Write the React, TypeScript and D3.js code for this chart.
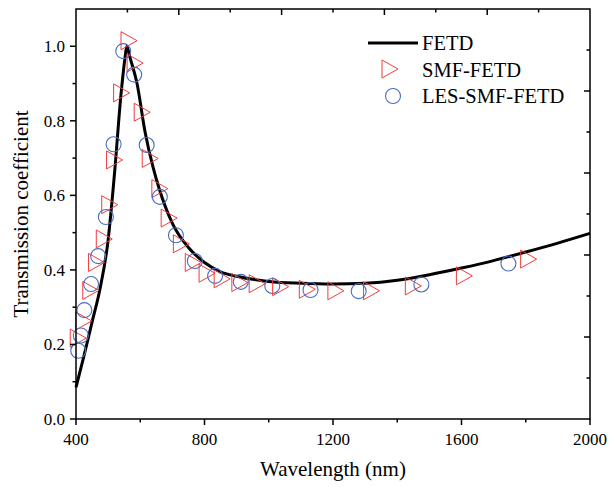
import React from "react";
import * as d3 from "d3";

// FETD (solid line)
const fetdWavelength = [400, 425, 450, 475, 500, 520, 540, 552, 558, 568, 590, 615, 640, 660, 700, 750, 800, 850, 900, 1000, 1100, 1200, 1300, 1400, 1500, 1600, 1700, 1800, 1900, 2000];
const fetdValue = [0.085, 0.17, 0.26, 0.35, 0.48, 0.66, 0.87, 0.965, 1.0, 0.97, 0.9, 0.77, 0.675, 0.615, 0.525, 0.46, 0.42, 0.395, 0.383, 0.369, 0.364, 0.362, 0.364, 0.372, 0.387, 0.405, 0.425, 0.448, 0.472, 0.498];

// SMF-FETD (triangles)
const smfWavelength = [407, 424, 446, 464, 488, 505, 520, 542, 565, 584, 606, 631, 661, 690, 728, 765, 808, 855, 910, 964, 1037, 1120, 1209, 1320, 1450, 1609, 1809];
const smfValue = [0.217, 0.263, 0.345, 0.42, 0.483, 0.575, 0.695, 0.875, 1.015, 0.955, 0.823, 0.699, 0.618, 0.539, 0.47, 0.42, 0.391, 0.376, 0.366, 0.363, 0.355, 0.348, 0.344, 0.344, 0.357, 0.384, 0.429];

// LES-SMF-FETD (circles)
const lesWavelength = [407, 415, 426, 447, 469, 493, 517, 547, 581, 620, 661, 711, 770, 833, 913, 1011, 1130, 1280, 1475, 1746];
const lesValue = [0.183, 0.224, 0.292, 0.362, 0.437, 0.542, 0.737, 0.987, 0.924, 0.735, 0.596, 0.493, 0.424, 0.384, 0.368, 0.357, 0.346, 0.343, 0.361, 0.417];

const xTicks = [400, 800, 1200, 1600, 2000];
const xMinor = [600, 1000, 1400, 1800];
const yTicks = [0, 0.2, 0.4, 0.6, 0.8, 1.0];
const yMinor = [0.1, 0.3, 0.5, 0.7, 0.9];
const oppositeTicks = [1, 2, 3, 4, 5, 6, 7, 8, 9];

const legendNames = ["FETD", "SMF-FETD", "LES-SMF-FETD"];

const width = 614;
const height = 487;
const margin = {left: 76, right: 24, top: 9, bottom: 68};
const font = "'Liberation Serif', 'Times New Roman', serif";
const red = "#f03c3c";
const blue = "#4a6cc4";

const triangle = "M-8,-9L-8,9L8,0Z";

const App = () => {
    const x = d3.scaleLinear().domain([400, 2000]).range([margin.left, width - margin.right]);
    const y = d3.scaleLinear().domain([0, 1.1]).range([height - margin.bottom, margin.top]);
    // the top and right axes of the frame carry their own tick spacing
    const xTop = d3.scaleLinear().domain([0, 10]).range(x.range());
    const yRight = d3.scaleLinear().domain([0, 10]).range(y.range());

    const line = d3.line<number>()
        .x((d, i) => x(fetdWavelength[i]))
        .y(d => y(d))
        .curve(d3.curveMonotoneX);

    const x0 = x.range()[0], x1 = x.range()[1];
    const y0 = y.range()[0], y1 = y.range()[1];

    return (
        <svg width={width} height={height} style={{position: "absolute", left: 0, top: 0, background: "#fff"}}
             fontFamily={font}>
            <path d={line(fetdValue) || ""} fill="none" stroke="#000" strokeWidth={3}/>

            {smfValue.map((v, i) => (
                <path key={"t" + i} d={triangle} transform={`translate(${x(smfWavelength[i])},${y(v)})`}
                      fill="none" stroke={red} strokeWidth={1}/>
            ))}
            {lesValue.map((v, i) => (
                <circle key={"c" + i} cx={x(lesWavelength[i])} cy={y(v)} r={7.5}
                        fill="none" stroke={blue} strokeWidth={1.1}/>
            ))}

            {/* frame */}
            <rect x={x0} y={y1} width={x1 - x0} height={y0 - y1} fill="none" stroke="#000" strokeWidth={1.5}/>

            {/* bottom axis */}
            {xTicks.map(t => (
                <g key={"xt" + t}>
                    <line x1={x(t)} x2={x(t)} y1={y0} y2={y0 + 6} stroke="#000" strokeWidth={1.5}/>
                    <text x={x(t)} y={y0 + 26} textAnchor="middle" fontSize={17}>{t}</text>
                </g>
            ))}
            {xMinor.map(t => (
                <line key={"xm" + t} x1={x(t)} x2={x(t)} y1={y0} y2={y0 + 3.5} stroke="#000" strokeWidth={1.5}/>
            ))}

            {/* left axis */}
            {yTicks.map(t => (
                <g key={"yt" + t}>
                    <line x1={x0 - 6} x2={x0} y1={y(t)} y2={y(t)} stroke="#000" strokeWidth={1.5}/>
                    <text x={x0 - 11} y={y(t)} dy="0.35em" textAnchor="end" fontSize={17}>{d3.format(".1f")(t)}</text>
                </g>
            ))}
            {yMinor.map(t => (
                <line key={"ym" + t} x1={x0 - 3.5} x2={x0} y1={y(t)} y2={y(t)} stroke="#000" strokeWidth={1.5}/>
            ))}

            {/* top and right axes, ticks pointing inward */}
            {oppositeTicks.map(k => (
                <g key={"o" + k}>
                    <line x1={xTop(k)} x2={xTop(k)} y1={y1} y2={y1 + (k % 2 === 0 ? 6 : 3.5)} stroke="#000" strokeWidth={1.5}/>
                    <line x1={x1 - (k % 2 === 0 ? 6 : 3.5)} x2={x1} y1={yRight(k)} y2={yRight(k)} stroke="#000" strokeWidth={1.5}/>
                </g>
            ))}

            <text x={(x0 + x1) / 2} y={y0 + 57} textAnchor="middle" fontSize={21}>Wavelength (nm)</text>
            <text transform={`translate(28,${(y0 + y1) / 2}) rotate(-90)`} textAnchor="middle" fontSize={21}>
                Transmission coefficient
            </text>

            {/* legend */}
            <g transform="translate(368,43)">
                <line x1={0} x2={50} y1={0} y2={0} stroke="#000" strokeWidth={3}/>
                <path d={triangle} transform="translate(22,26)" fill="none" stroke={red} strokeWidth={1}/>
                <circle cx={25} cy={53} r={7.5} fill="none" stroke={blue} strokeWidth={1.1}/>
                {legendNames.map((name, i) => (
                    <text key={name} x={54} y={i * 26.5} dy="0.35em" fontSize={20.5}>{name}</text>
                ))}
            </g>
        </svg>
    );
};

export default App;
